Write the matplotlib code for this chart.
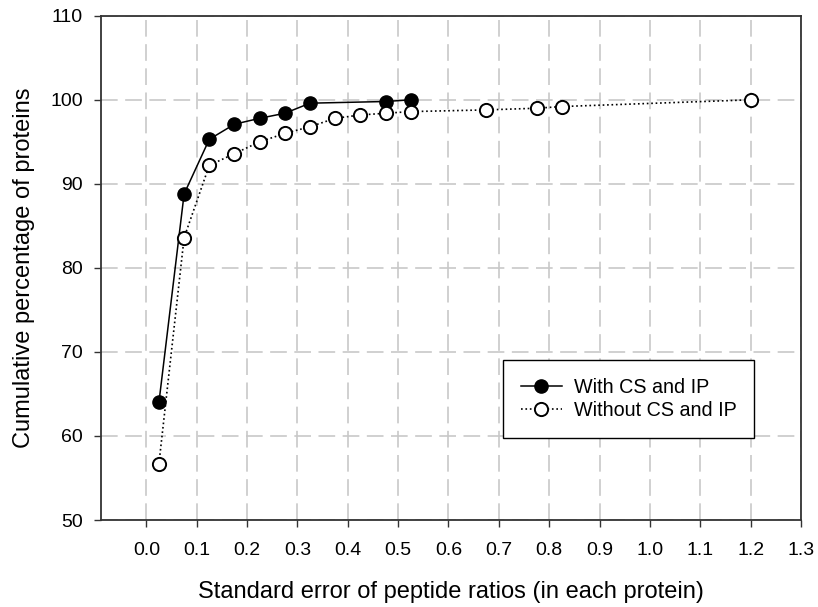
import matplotlib.pyplot as plt

# cumulative percentage of proteins vs. standard error of peptide ratios
x_with = [0.025, 0.075, 0.125, 0.175, 0.225, 0.275, 0.325, 0.475, 0.525]
y_with = [64.0, 88.8, 95.3, 97.1, 97.8, 98.4, 99.6, 99.8, 100.0]

x_without = [0.025, 0.075, 0.125, 0.175, 0.225, 0.275, 0.325, 0.375, 0.425,
             0.475, 0.525, 0.675, 0.775, 0.825, 1.2]
y_without = [56.7, 83.6, 92.2, 93.6, 95.0, 96.0, 96.8, 97.8, 98.2,
             98.4, 98.6, 98.8, 99.0, 99.2, 100.0]

xticks = [round(0.1 * i, 1) for i in range(14)]
yticks = list(range(50, 111, 10))

plt.rcParams['font.family'] = ['Liberation Sans', 'DejaVu Sans']

fig = plt.figure(figsize=(8.18, 6.07), dpi=100)
ax = fig.add_axes([0.1235, 0.1433, 0.8557, 0.8307])

ax.plot(x_with, y_with, '-', color='black', lw=1.1, marker='o', ms=9.5,
        mfc='black', mec='black', label='With CS and IP', zorder=3)
ax.plot(x_without, y_without, ':', color='black', lw=1.2, marker='o', ms=9.5,
        mfc='white', mec='black', mew=1.4, label='Without CS and IP', zorder=3)

ax.set_xlim(-0.09, 1.3)
ax.set_ylim(50, 110)
ax.set_xticks(xticks)
ax.set_xticklabels([f'{t:.1f}' for t in xticks])
ax.set_yticks(yticks)
ax.tick_params(axis='both', labelsize=14, length=5, width=1, color='#333333')
ax.tick_params(axis='x', pad=10.5)
ax.tick_params(axis='y', pad=8)

ax.grid(True, color='#c8c8c8', ls=(0, (10, 4.5)), lw=1.2)
ax.set_axisbelow(True)
for s in ax.spines.values():
    s.set_color('#333333')
    s.set_linewidth(1.3)

ax.set_xlabel('Standard error of peptide ratios (in each protein)', fontsize=17, labelpad=16)
ax.set_ylabel('Cumulative percentage of proteins', fontsize=17, labelpad=11)

leg = ax.legend(loc='upper left', bbox_to_anchor=(0.574, 0.317), borderaxespad=0,
                fancybox=False, edgecolor='black', framealpha=1, fontsize=14.2,
                handlelength=2.1, handletextpad=0.6, borderpad=0.9, labelspacing=0.22)
leg.get_frame().set_linewidth(1.0)

plt.savefig('out.png', dpi=100)
